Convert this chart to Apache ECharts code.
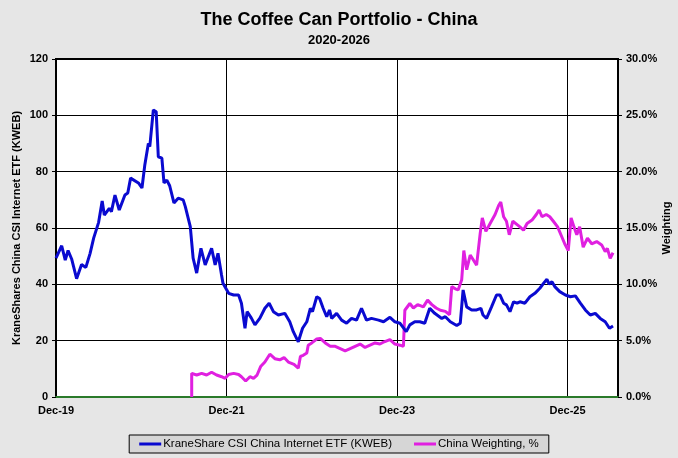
<!DOCTYPE html>
<html>
<head>
<meta charset="utf-8">
<script src="https://cdn.jsdelivr.net/npm/echarts@6/dist/echarts.min.js"></script>
<style>
html, body { margin: 0; padding: 0; background: #e6e6e6; }
#chart { width: 678px; height: 458px; }
</style>
</head>
<body>
<div id="chart"></div>
<script>
// x values are months counted from Dec-19
var xTickLabels = { 0: 'Dec-19', 24: 'Dec-21', 48: 'Dec-23', 72: 'Dec-25' };

var kwebMonths = [0.0, 0.8, 1.3, 1.7, 2.2, 2.9, 3.6, 4.2, 4.8, 5.3, 6.0, 6.5, 6.8, 7.5, 7.8, 8.3, 8.9, 9.7, 10.1, 10.5,
	11.6, 12.1, 12.5, 13.0, 13.2, 13.7, 14.1, 14.4, 14.9, 15.2, 15.6, 16.0, 16.6, 17.2, 17.9, 18.2, 18.9, 19.3, 19.8, 20.4,
	21.0, 21.9, 22.4, 22.8, 23.3, 23.5, 24.3, 25.0, 25.7, 26.1, 26.6, 26.9, 27.5, 28.0, 28.7, 29.4, 30.0, 30.6, 31.3, 32.2,
	32.9, 33.4, 34.1, 34.7, 35.3, 35.8, 36.1, 36.7, 37.1, 37.6, 38.1, 38.5, 38.8, 39.5, 40.2, 40.9, 41.6, 42.3, 43.0, 43.7,
	44.4, 45.4, 46.1, 47.0, 47.7, 48.4, 49.3, 49.8, 50.5, 51.2, 51.9, 52.6, 53.3, 54.3, 54.8, 55.5, 56.4, 56.9, 57.3, 57.8,
	58.5, 59.2, 59.8, 60.1, 60.6, 61.3, 62.0, 62.5, 63.0, 63.4, 63.9, 64.4, 64.9, 65.3, 66.0, 66.7, 67.4, 68.1, 68.7, 69.1,
	69.4, 69.8, 70.2, 70.9, 71.7, 72.4, 73.1, 73.8, 74.5, 75.2, 75.9, 76.6, 77.3, 77.9, 78.4];
var kwebPrice = [49.3, 53.7, 48.6, 52, 49, 42, 47, 46, 51, 56.4, 62, 69.6, 64.6, 67, 65.8, 71.7, 66.4, 71.7, 72.4, 77.7,
	76, 74.2, 82.4, 90, 88.9, 101.9, 101.3, 85.3, 84.8, 76, 77, 75, 68.9, 70.6, 70, 67.6, 60.5, 49.3, 44, 52.8,
	46.9, 52.8, 46.9, 51, 43.3, 40.4, 36.8, 36.2, 36.2, 33.3, 24.4, 30.3, 28, 25.6, 28, 31.5, 33.3, 30.3, 29.1, 29.7,
	26.7, 23.2, 19.6, 24.4, 26.7, 31.5, 30.3, 35.6, 35, 31.5, 28.5, 30.9, 27.9, 29.7, 27.3, 26.2, 27.9, 27.3, 31.5, 27.3,
	27.9, 27.3, 26.7, 28.3, 26.7, 26.2, 23.2, 25.6, 26.7, 26.7, 26.2, 31.5, 29.7, 27.9, 28.5, 26.7, 25.4, 26.2, 38, 32,
	30.9, 30.9, 31.5, 29.1, 27.9, 32, 36.2, 36.2, 33.3, 32.7, 30.3, 33.8, 33.3, 33.8, 33.3, 35.6, 36.8, 38.6, 40.6, 41.8,
	40.1, 40.9, 39.2, 37.4, 36.2, 35.6, 35.9, 33.3, 30.9, 29.1, 29.7, 27.9, 26.7, 24.4, 25.2];

var weightMonths = [19.1, 19.1, 19.8, 20.5, 21.2, 21.9, 22.6, 23.3, 23.8, 24.3, 25.0, 25.7, 26.1, 26.7, 27.3, 27.8, 28.3, 28.8, 29.4, 30.1,
	30.8, 31.5, 32.1, 32.7, 33.5, 34.1, 34.4, 34.8, 35.3, 35.5, 36.0, 36.7, 37.2, 37.9, 38.6, 39.3, 40.0, 40.7, 41.4, 42.1,
	42.8, 43.5, 44.2, 44.9, 45.6, 46.2, 47.0, 47.7, 48.4, 48.9, 49.1, 49.8, 50.3, 50.9, 51.7, 52.3, 52.9, 53.5, 54.1, 54.8,
	55.4, 55.7, 56.2, 56.6, 57.1, 57.4, 57.8, 58.3, 58.7, 59.2, 59.7, 60.0, 60.5, 61.1, 61.8, 62.3, 62.6, 63.0, 63.4, 63.8,
	64.3, 64.9, 65.3, 65.8, 66.3, 67.0, 67.6, 68.0, 68.4, 69.0, 69.5, 70.0, 70.6, 71.2, 71.6, 72.1, 72.5, 72.9, 73.3, 73.7,
	74.2, 74.8, 75.4, 76.1, 76.8, 77.3, 77.6, 78.0, 78.4];
var weightPct = [0, 2.1, 1.95, 2.1, 1.95, 2.2, 1.95, 1.8, 1.66, 2.0, 2.1, 2.0, 1.8, 1.42, 1.8, 1.66, 1.95, 2.7, 3.1, 3.8,
	3.4, 3.3, 3.5, 3.1, 2.9, 2.55, 3.6, 3.7, 3.9, 4.6, 4.8, 5.15, 5.2, 4.8, 4.5, 4.5, 4.3, 4.1, 4.3, 4.5,
	4.7, 4.4, 4.6, 4.8, 4.7, 4.9, 5.1, 4.7, 4.6, 4.5, 7.7, 8.3, 7.9, 8.2, 8.0, 8.6, 8.2, 7.9, 7.7, 7.6,
	7.3, 9.8, 9.6, 9.5, 10.4, 13.0, 11.3, 12.6, 12.2, 11.7, 14.5, 15.9, 14.7, 15.4, 16.2, 17.0, 17.3, 16.0, 15.6, 14.4,
	15.6, 15.3, 15.1, 14.8, 15.4, 15.7, 16.2, 16.6, 16.0, 16.2, 16.0, 15.6, 15.1, 14.2, 13.6, 13.0, 15.9, 15.1, 14.4, 15.1,
	13.3, 14.1, 13.6, 13.8, 13.5, 12.9, 13.2, 12.3, 12.8];

function pairs(xs, ys) {
	var out = [];
	for (var i = 0; i < xs.length; i++) out.push([xs[i], ys[i]]);
	return out;
}

var myChart = echarts.init(document.getElementById('chart'));
var labelFont = { fontFamily: 'Liberation Sans, Arial', fontWeight: 'bold', fontSize: 11, color: '#000' };

function axisTitle(text, x) {
	return {
		type: 'text',
		x: x,
		y: 228,
		rotation: Math.PI / 2,
		style: {
			text: text,
			fill: '#000',
			font: 'bold 11px "Liberation Sans", Arial',
			align: 'center',
			verticalAlign: 'middle'
		}
	};
}

var option = {
	backgroundColor: '#e6e6e6',
	animation: false,
	title: {
		text: 'The Coffee Can Portfolio - China',
		subtext: '2020-2026',
		left: 'center',
		top: 6,
		itemGap: 5,
		textStyle: { fontFamily: 'Liberation Sans, Arial', fontWeight: 'bold', fontSize: 18, color: '#000' },
		subtextStyle: { fontFamily: 'Liberation Sans, Arial', fontWeight: 'bold', fontSize: 13, color: '#000' }
	},
	graphic: [
		axisTitle('KraneShares China CSI Internet ETF (KWEB)', 17),
		axisTitle('Weighting', 667)
	],
	grid: {
		left: 56, right: 60, top: 59, bottom: 61,
		outerBoundsMode: 'none',
		containLabel: false,
		show: true,
		backgroundColor: '#fff',
		borderColor: '#000',
		borderWidth: 2
	},
	legend: {
		bottom: 5,
		left: 'center',
		backgroundColor: '#d6d6d6',
		borderColor: '#000',
		borderWidth: 1,
		borderRadius: 0,
		padding: [3, 10],
		itemGap: 22,
		itemWidth: 22,
		itemHeight: 3,
		icon: 'rect',
		textStyle: { fontFamily: 'Liberation Sans, Arial', fontSize: 11.5, color: '#000', padding: [0, 0, 0, -3] },
		data: ['KraneShare CSI China Internet ETF (KWEB)', 'China Weighting, %']
	},
	xAxis: {
		type: 'value',
		min: 0,
		max: 79.1,
		interval: 24,
		axisLine: { show: true, lineStyle: { color: '#2a7a2a', width: 2 } },
		axisTick: { show: false },
		splitLine: { show: true, lineStyle: { color: '#000', width: 1 } },
		axisLabel: Object.assign({
			showMaxLabel: false,
			margin: 8,
			formatter: function (v) { return xTickLabels[v] || ''; }
		}, labelFont)
	},
	yAxis: [{
		type: 'value',
		min: 0, max: 120, interval: 20,
		axisLine: { show: true, lineStyle: { color: '#000', width: 2 } },
		axisTick: { show: true, length: 4, lineStyle: { color: '#000' } },
		splitLine: { show: true, lineStyle: { color: '#000', width: 1 } },
		axisLabel: Object.assign({ margin: 8 }, labelFont)
	}, {
		type: 'value',
		min: 0, max: 30, interval: 5,
		axisLine: { show: true, lineStyle: { color: '#000', width: 2 } },
		axisTick: { show: true, length: 4, lineStyle: { color: '#000' } },
		splitLine: { show: false },
		axisLabel: Object.assign({
			margin: 8,
			formatter: function (v) { return v.toFixed(1) + '%'; }
		}, labelFont)
	}],
	series: [{
		name: 'KraneShare CSI China Internet ETF (KWEB)',
		type: 'line',
		yAxisIndex: 0,
		showSymbol: false,
		symbol: 'none',
		color: '#0a0ad0',
		lineStyle: { width: 3, color: '#0a0ad0' },
		z: 3,
		data: pairs(kwebMonths, kwebPrice)
	}, {
		name: 'China Weighting, %',
		type: 'line',
		yAxisIndex: 1,
		showSymbol: false,
		symbol: 'none',
		color: '#e020e0',
		lineStyle: { width: 3, color: '#e020e0' },
		z: 2,
		data: pairs(weightMonths, weightPct)
	}]
};
myChart.setOption(option);
</script>
</body>
</html>
